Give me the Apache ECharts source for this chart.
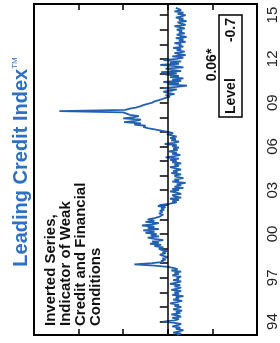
<!DOCTYPE html>
<html>
<head>
<meta charset="utf-8">
<script src="https://cdn.jsdelivr.net/npm/echarts@6/dist/echarts.min.js"></script>
<style>
  html, body { margin: 0; padding: 0; background: #fff; }
  #chart { width: 280px; height: 343px; }
</style>
</head>
<body>
<div id="chart"></div>
<script>
// monthly index values, Feb 1993 .. Jul 2015 (plotted inverted: weak = left)
const startYear = 1993 + 1 / 12;
const indexValues = [
  // 1993 (Feb-Dec)
  0.2, 0.3, 0.12, 0.25, 0.35, 0.18, 0.28, 0.1, 0.22, 0.3, 0.15,
  // 1994
  -0.1, 0.15, 0.25, 0.1, 0.3, 0.2, 0.08, 0.28, 0.18, 0.32, 0.12, 0.22,
  // 1995
  0.3, 0.15, 0.25, 0.05, 0.2, 0.32, 0.12, 0.25, 0.18, 0.35, 0.1, 0.25,
  // 1996
  0.15, 0.3, 0.08, 0.22, 0.3, 0.15, 0.28, 0.05, 0.2, 0.3, 0.12, 0.25,
  // 1997
  0.2, 0.3, 0.1, 0.25, 0.15, 0.3, 0.08, 0.22, 0.15, 0.0, -0.3, -0.75,
  // 1998
  -0.35, -0.1, -0.15, -0.05, -0.12, 0.0, -0.1, -0.18, -0.05, -0.12, -0.02, -0.15,
  // 1999
  -0.2, -0.1, -0.3, -0.15, -0.4, -0.2, -0.35, -0.1, -0.3, -0.45, -0.2, -0.38,
  // 2000
  -0.25, -0.5, -0.3, -0.55, -0.2, -0.45, -0.3, -0.58, -0.35, -0.2, -0.5, -0.3,
  // 2001
  -0.45, -0.3, -0.2, -0.15, -0.1, -0.2, -0.12, -0.18, -0.08, -0.15, -0.05, -0.22,
  // 2002
  -0.15, 0.05, 0.2, 0.1, 0.25, 0.05, 0.3, 0.15, 0.1, 0.3, 0.2, 0.05,
  // 2003
  0.25, 0.1, 0.35, 0.15, 0.3, 0.2, 0.4, 0.1, 0.25, 0.15, 0.35, 0.2,
  // 2004
  0.15, 0.3, 0.08, 0.22, 0.12, 0.3, 0.18, 0.05, 0.25, 0.15, 0.3, 0.1,
  // 2005
  0.2, 0.05, 0.25, -0.05, 0.15, 0.28, 0.1, 0.2, 0.02, 0.22, 0.12, 0.25,
  // 2006
  0.1, 0.2, -0.07, 0.15, 0.25, 0.08, 0.18, 0.05, 0.2, 0.1, -0.02, 0.12,
  // 2007
  0.0, -0.15, -0.3, -0.45, -0.55, -0.5, -0.75, -0.6, -0.98, -0.72, -0.6, -1.0,
  // 2008
  -0.75, -0.65, -0.85, -0.85, -1.0, -2.43, -0.95, -0.85, -0.72, -0.62, -0.55, -0.45,
  // 2009
  -0.35, -0.3, -0.2, -0.12, -0.05, 0.05, -0.05, 0.15, 0.0, -0.1, 0.1, 0.2,
  // 2010
  -0.1, 0.2, 0.43, 0.0, 0.25, -0.1, 0.3, 0.1, 0.35, 0.05, 0.25, -0.05,
  // 2011
  0.2, -0.15, 0.3, 0.1, -0.05, 0.35, 0.15, -0.17, 0.25, 0.05, 0.3, -0.1,
  // 2012
  0.2, 0.35, 0.1, 0.4, 0.25, 0.15, 0.38, 0.2, 0.3, 0.12, 0.35, 0.25,
  // 2013
  0.3, 0.15, 0.4, 0.25, 0.35, 0.18, 0.42, 0.28, 0.2, 0.38, 0.25, 0.32,
  // 2014
  0.2, 0.38, 0.28, 0.15, 0.4, 0.3, 0.22, 0.42, 0.25, 0.35, 0.18, 0.3,
  // 2015 (Jan-Jul)
  0.4, 0.22, 0.35, 0.15, 0.3, 0.25, 0.18
];

const tickYears = [];
for (let y = 1994; y <= 2015; y++) tickYears.push(y);
const labelYears = [1994, 1997, 2000, 2003, 2006, 2009, 2012, 2015];
const labelTexts = ['94', '97', '00', '03', '06', '09', '12', '15'];

const chart = echarts.init(document.getElementById('chart'));
const font = '"Liberation Sans", Arial, sans-serif';

const valueAxis = (pos) => ({
  type: 'value',
  position: pos,
  min: -3,
  max: 2,
  interval: 1,
  axisLine: { show: false },
  axisTick: { show: true, inside: true, length: 6, lineStyle: { color: '#000', width: 1.5 } },
  axisLabel: { show: false },
  splitLine: { show: false }
});

chart.setOption({
  animation: false,
  grid: {
    left: 34, right: 23, top: 4, bottom: 8,
    show: true, borderColor: '#000', borderWidth: 2
  },
  xAxis: [valueAxis('bottom'), valueAxis('top')],
  yAxis: {
    type: 'value',
    position: 'right',
    min: 1993.08,
    max: 2015.76,
    axisLine: { show: false },
    axisTick: {
      show: true, inside: true, length: 8,
      customValues: tickYears,
      lineStyle: { color: '#000', width: 1.5 }
    },
    axisLabel: {
      customValues: labelYears,
      rotate: 90,
      margin: 8,
      color: '#222',
      fontSize: 15,
      fontFamily: font,
      formatter: v => labelTexts[labelYears.indexOf(Math.round(v))]
    },
    splitLine: { show: false }
  },
  series: [{
    type: 'line',
    xAxisIndex: 0,
    showSymbol: false,
    lineStyle: { color: '#2260b0', width: 1.8 },
    data: indexValues.map((v, i) => [v, startYear + i / 12]),
    markLine: {
      silent: true,
      symbol: 'none',
      label: { show: false },
      lineStyle: { color: '#000', width: 1.5, type: 'solid' },
      data: [{ xAxis: 0 }]
    }
  }],
  graphic: [
    {
      type: 'text', x: 21, y: 162, rotation: Math.PI / 2,
      style: {
        text: '{a|Leading Credit Index}{b|TM}',
        align: 'center', verticalAlign: 'middle',
        rich: {
          a: { font: 'bold 20px ' + font, fill: '#2f6fc4' },
          b: { font: '8px ' + font, fill: '#2f6fc4', verticalAlign: 'top' }
        }
      }
    },
    {
      type: 'text', x: 43, y: 326, rotation: Math.PI / 2,
      style: {
        text: 'Inverted Series,\nIndicator of Weak\nCredit and Financial\nConditions',
        font: 'bold 15px ' + font, lineHeight: 15, fill: '#111',
        align: 'left', verticalAlign: 'top'
      }
    },
    {
      type: 'text', x: 212, y: 65, rotation: Math.PI / 2,
      style: {
        text: '0.06*', font: 'bold 14px ' + font, fill: '#111',
        align: 'center', verticalAlign: 'middle'
      }
    },
    {
      type: 'rect', shape: { x: 219, y: 15, width: 23, height: 102 },
      style: { fill: '#fff', stroke: '#000', lineWidth: 1.5 }
    },
    {
      type: 'text', x: 231, y: 114, rotation: Math.PI / 2,
      style: {
        text: 'Level', font: 'bold 14px ' + font, fill: '#111',
        align: 'left', verticalAlign: 'middle'
      }
    },
    {
      type: 'text', x: 231, y: 18, rotation: Math.PI / 2,
      style: {
        text: '-0.7', font: 'bold 14px ' + font, fill: '#111',
        align: 'right', verticalAlign: 'middle'
      }
    }
  ]
});
</script>
</body>
</html>
